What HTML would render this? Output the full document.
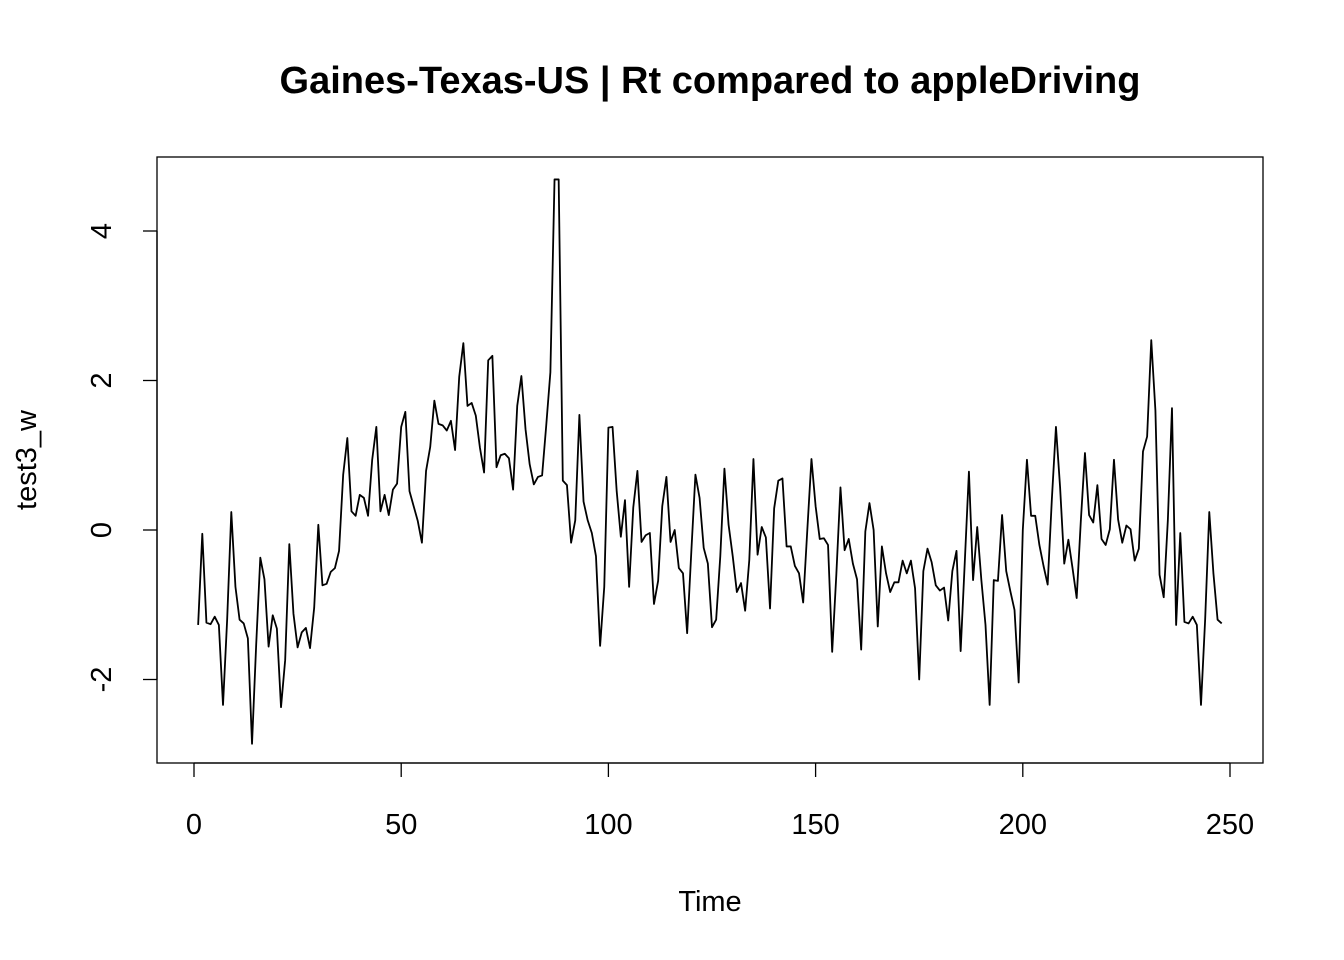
<!DOCTYPE html>
<html><head><meta charset="utf-8"><style>
html,body{margin:0;padding:0;background:#fff;}
svg{display:block;font-family:"Liberation Sans",Arial,sans-serif;}
</style></head><body>
<svg id="chart" width="1344" height="960" viewBox="0 0 1344 960" xmlns="http://www.w3.org/2000/svg">
<rect width="1344" height="960" fill="#fff"/>
<text x="710" y="93" text-anchor="middle" font-size="38" font-weight="bold">Gaines-Texas-US | Rt compared to appleDriving</text>
<rect x="157" y="157" width="1106" height="606" fill="none" stroke="#000" stroke-width="1.3"/>
<text x="710" y="911" text-anchor="middle" font-size="29">Time</text>
<text transform="translate(36,460) rotate(-90)" text-anchor="middle" font-size="29">test3_w</text>
<g id="xaxis"></g>
<g id="yaxis"></g>
<path id="series" fill="none" stroke="#000" stroke-width="1.8" stroke-linejoin="round"/>
</svg>
<script>
const xTicks=[0,50,100,150,200,250];
const yTicks=[-2,0,2,4];
const values=[-1.27,-0.05,-1.24,-1.26,-1.16,-1.27,-2.34,-1.2,0.24,-0.76,-1.2,-1.25,-1.45,-2.86,-1.54,-0.37,-0.66,-1.56,-1.14,-1.32,-2.37,-1.74,-0.19,-1.12,-1.57,-1.37,-1.31,-1.58,-1.04,0.07,
-0.74,-0.72,-0.56,-0.51,-0.28,0.74,1.23,0.25,0.19,0.47,0.43,0.19,0.94,1.38,0.25,0.47,0.2,0.54,0.62,1.38,1.58,0.52,0.32,0.12,-0.17,0.79,1.11,1.73,1.42,1.40,
1.33,1.46,1.07,2.05,2.5,1.66,1.70,1.53,1.1,0.77,2.27,2.33,0.84,1.0,1.02,0.96,0.54,1.66,2.06,1.35,0.88,0.61,0.71,0.73,1.4,2.11,4.69,4.69,0.66,0.6,
-0.17,0.13,1.54,0.38,0.13,-0.04,-0.35,-1.55,-0.76,1.37,1.38,0.52,-0.09,0.4,-0.76,0.3,0.79,-0.16,-0.07,-0.04,-0.99,-0.68,0.32,0.71,-0.16,0.0,-0.51,-0.58,-1.38,-0.3,
0.74,0.43,-0.24,-0.45,-1.3,-1.2,-0.35,0.82,0.07,-0.35,-0.83,-0.71,-1.08,-0.4,0.95,-0.33,0.04,-0.1,-1.05,0.29,0.66,0.69,-0.22,-0.22,-0.48,-0.58,-0.97,0.0,0.95,0.32,
-0.12,-0.11,-0.2,-1.63,-0.6,0.57,-0.27,-0.12,-0.45,-0.66,-1.6,-0.02,0.36,0.0,-1.29,-0.22,-0.58,-0.83,-0.7,-0.7,-0.41,-0.58,-0.41,-0.78,-2.0,-0.55,-0.25,-0.43,-0.74,-0.81,
-0.77,-1.21,-0.55,-0.28,-1.62,-0.43,0.78,-0.67,0.04,-0.67,-1.27,-2.34,-0.67,-0.68,0.2,-0.55,-0.82,-1.07,-2.04,0.0,0.94,0.19,0.19,-0.2,-0.48,-0.73,0.4,1.38,0.57,-0.45,
-0.13,-0.51,-0.91,0.12,1.03,0.2,0.1,0.6,-0.12,-0.2,0.01,0.94,0.14,-0.17,0.06,0.01,-0.41,-0.25,1.05,1.25,2.54,1.6,-0.6,-0.9,0.13,1.63,-1.27,-0.04,-1.23,-1.25,
-1.16,-1.27,-2.34,-1.2,0.24,-0.58,-1.2,-1.25];
const NS="http://www.w3.org/2000/svg";
function xs(t){return 194+t*(1230-194)/250;}
function ys(v){return 530-v*74.75;}
const xa=document.getElementById('xaxis');
let ln=document.createElementNS(NS,'line');
ln.setAttribute('x1',xs(xTicks[0]));ln.setAttribute('x2',xs(xTicks[xTicks.length-1]));ln.setAttribute('y1',763);ln.setAttribute('y2',763);ln.setAttribute('stroke','#000');ln.setAttribute('stroke-width','1.3');


xa.appendChild(ln);
xTicks.forEach(t=>{
 const l=document.createElementNS(NS,'line');
 l.setAttribute('x1',xs(t));l.setAttribute('x2',xs(t));l.setAttribute('y1',763);l.setAttribute('y2',777);l.setAttribute('stroke','#000');l.setAttribute('stroke-width','1.3');
 
 
 xa.appendChild(l);
 const tx=document.createElementNS(NS,'text');
 tx.setAttribute('x',xs(t));tx.setAttribute('y',834);tx.setAttribute('text-anchor','middle');tx.setAttribute('font-size','29');tx.textContent=t;
 
 
 xa.appendChild(tx);
});
const ya=document.getElementById('yaxis');
let yl=document.createElementNS(NS,'line');
yl.setAttribute('x1',157);yl.setAttribute('x2',157);yl.setAttribute('y1',ys(yTicks[0]));yl.setAttribute('y2',ys(yTicks[yTicks.length-1]));yl.setAttribute('stroke','#000');yl.setAttribute('stroke-width','1.3');


ya.appendChild(yl);
yTicks.forEach(v=>{
 const l=document.createElementNS(NS,'line');
 l.setAttribute('x1',143);l.setAttribute('x2',157);l.setAttribute('y1',ys(v));l.setAttribute('y2',ys(v));l.setAttribute('stroke','#000');l.setAttribute('stroke-width','1.3');
 
 
 ya.appendChild(l);
 const tx=document.createElementNS(NS,'text');
 tx.setAttribute('transform','translate(111,'+ys(v)+') rotate(-90)');tx.setAttribute('text-anchor','middle');tx.setAttribute('font-size','29');tx.textContent=v;
 
 
 ya.appendChild(tx);
});
let d='';
values.forEach((v,i)=>{d+=(i?'L':'M')+xs(i+1).toFixed(2)+','+ys(v).toFixed(2);});
document.getElementById('series').setAttribute('d',d);
</script>
</body></html>
